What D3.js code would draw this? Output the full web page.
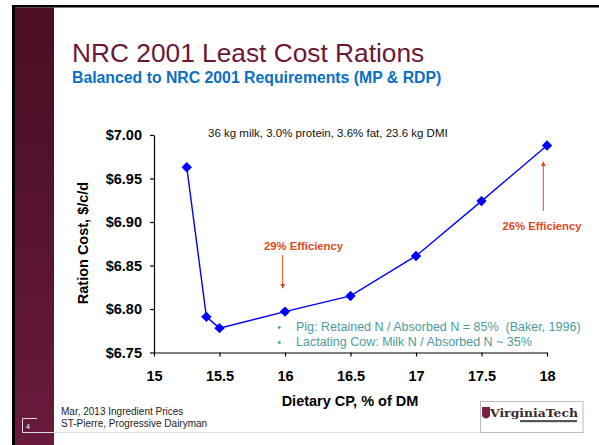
<!DOCTYPE html>
<html>
<head>
<meta charset="utf-8">
<script src="https://cdn.jsdelivr.net/npm/d3@7"></script>
<style>
  body { margin: 0; background: #fff; }
  svg { display: block; font-family: Arial, "Liberation Sans", sans-serif; }
  text { white-space: pre; }
</style>
</head>
<body>
<div id="chart"></div>
<script>
// data
const cpLevels = [15.25, 15.4, 15.5, 16, 16.5, 17, 17.5, 18];
const rationCost = [6.963, 6.791, 6.778, 6.797, 6.815, 6.861, 6.924, 6.988];
const xTicks = [15, 15.5, 16, 16.5, 17, 17.5, 18];
const yTicks = [6.75, 6.80, 6.85, 6.90, 6.95, 7.00];
const bulletLines = [
    "Pig: Retained N / Absorbed N = 85%  (Baker, 1996)",
    "Lactating Cow: Milk N / Absorbed N ~ 35%"
];
const footerLines = ["Mar, 2013 Ingredient Prices", "ST-Pierre, Progressive Dairyman"];

const W = 599, H = 445;
const svg = d3.select("#chart").append("svg")
    .attr("width", W)
    .attr("height", H);

// slide frame: black edge + maroon side panel
const defs = svg.append("defs");
const grad = defs.append("linearGradient")
    .attr("id", "panelGrad")
    .attr("x1", 0).attr("y1", 0).attr("x2", 0).attr("y2", 1);
grad.append("stop").attr("offset", "0%").attr("stop-color", "#4a0d24");
grad.append("stop").attr("offset", "55%").attr("stop-color", "#581530");
grad.append("stop").attr("offset", "100%").attr("stop-color", "#6a1a3c");

svg.append("rect").attr("x", 12).attr("y", 5).attr("width", W - 12).attr("height", 2.5).attr("fill", "#000");
svg.append("rect").attr("x", 12).attr("y", 5).attr("width", 3).attr("height", H - 5).attr("fill", "#000");
svg.append("rect").attr("x", 15).attr("y", 7.5).attr("width", 39).attr("height", H - 7.5).attr("fill", "url(#panelGrad)");

// page number box + bottom rule
svg.append("path")
    .attr("d", "M37,418.5 H22.5 V432.5 H480")
    .attr("fill", "none").attr("stroke", "#ddd").attr("stroke-width", 1);
svg.append("text").attr("x", 26).attr("y", 429)
    .attr("font-size", 7).attr("fill", "#fff").text("4");

// titles
svg.append("text").attr("x", 72).attr("y", 62)
    .attr("font-size", 26.3).attr("fill", "#6b1838")
    .text("NRC 2001 Least Cost Rations");
svg.append("text").attr("x", 72).attr("y", 83)
    .attr("font-size", 15.8).attr("font-weight", "bold").attr("fill", "#0a6fc2")
    .text("Balanced to NRC 2001 Requirements (MP & RDP)");

// scales
const x = d3.scaleLinear().domain([15, 18]).range([154, 547]);
const y = d3.scaleLinear().domain([6.75, 7.00]).range([352.5, 135]);

const xAxis = d3.axisBottom(x).tickValues(xTicks).tickSize(4).tickSizeOuter(0)
    .tickPadding(14).tickFormat(d3.format("~g"));
const yAxis = d3.axisLeft(y).tickValues(yTicks).tickSize(4).tickSizeOuter(0)
    .tickPadding(8).tickFormat(d => "$" + d3.format(".2f")(d));

const gx = svg.append("g").attr("transform", `translate(0,${y(6.75)})`).call(xAxis);
const gy = svg.append("g").attr("transform", `translate(${x(15)},0)`).call(yAxis);
[gx, gy].forEach(g => {
    g.select(".domain").attr("stroke", "#000").attr("stroke-width", 1.2);
    g.selectAll(".tick line").attr("stroke", "#000").attr("stroke-width", 1.2);
    g.selectAll(".tick text")
        .attr("font-family", "Arial, 'Liberation Sans', sans-serif")
        .attr("font-size", 14.5).attr("font-weight", "bold").attr("fill", "#000");
});

// axis titles
svg.append("text").attr("x", 350).attr("y", 406)
    .attr("text-anchor", "middle").attr("font-size", 14.5).attr("font-weight", "bold")
    .text("Dietary CP, % of DM");
svg.append("text")
    .attr("transform", "translate(88,243) rotate(-90)")
    .attr("text-anchor", "middle").attr("font-size", 14.5).attr("font-weight", "bold")
    .text("Ration Cost, $/c/d");

// condition note
svg.append("text").attr("x", 208).attr("y", 137)
    .attr("font-size", 11.5).attr("fill", "#111")
    .text("36 kg milk, 3.0% protein, 3.6% fat, 23.6 kg DMI");

// series
const pts = cpLevels.map((c, i) => ({ cp: c, cost: rationCost[i] }));
const line = d3.line().x(d => x(d.cp)).y(d => y(d.cost));
svg.append("path").datum(pts)
    .attr("d", line).attr("fill", "none")
    .attr("stroke", "#0000ff").attr("stroke-width", 1.4);
svg.selectAll(".pt").data(pts).enter().append("path")
    .attr("class", "pt")
    .attr("transform", d => `translate(${x(d.cp)},${y(d.cost)})`)
    .attr("d", "M0,-5.2 L5.2,0 L0,5.2 L-5.2,0 Z")
    .attr("fill", "#0000ff");

// efficiency callouts
const orange = "#df4a1e";
defs.append("marker").attr("id", "arrowHead")
    .attr("viewBox", "0 0 6 6").attr("refX", 5).attr("refY", 3)
    .attr("markerWidth", 5).attr("markerHeight", 5).attr("orient", "auto")
    .append("path").attr("d", "M0,0 L6,3 L0,6 Z").attr("fill", orange);

svg.append("text").attr("x", 303.5).attr("y", 249.5)
    .attr("text-anchor", "middle").attr("font-size", 11.3).attr("font-weight", "bold").attr("fill", orange)
    .text("29% Efficiency");
svg.append("line").attr("x1", 282.7).attr("y1", 255).attr("x2", 282.7).attr("y2", 288)
    .attr("stroke", orange).attr("stroke-width", 1).attr("marker-end", "url(#arrowHead)");

svg.append("text").attr("x", 542).attr("y", 230)
    .attr("text-anchor", "middle").attr("font-size", 11.3).attr("font-weight", "bold").attr("fill", orange)
    .text("26% Efficiency");
svg.append("line").attr("x1", 543.3).attr("y1", 211).attr("x2", 543.3).attr("y2", 162)
    .attr("stroke", orange).attr("stroke-width", 1).attr("marker-end", "url(#arrowHead)");

// bullet notes
const teal = "#4a9c9e";
bulletLines.forEach((t, i) => {
    svg.append("text").attr("x", 277.5).attr("y", 330.5 + i * 15)
        .attr("font-size", 10).attr("fill", teal).text("•");
    svg.append("text").attr("x", 296).attr("y", 330.5 + i * 15)
        .attr("font-size", 12.5).attr("fill", teal).text(t);
});

// footer
footerLines.forEach((t, i) => {
    svg.append("text").attr("x", 61).attr("y", 415 + i * 12)
        .attr("font-size", 10).attr("fill", "#222").text(t);
});

// logo box
const logo = svg.append("g");
logo.append("rect").attr("x", 480.5).attr("y", 401.5).attr("width", 102.5).attr("height", 31)
    .attr("fill", "#fff").attr("stroke", "#bbb");
logo.append("path").attr("d", "M482,407 H490 V416 Q486,421 482,416 Z").attr("fill", "#7a1f44");
logo.append("text").attr("x", 490).attr("y", 417)
    .attr("font-family", "'DejaVu Serif', serif").attr("font-size", 11.5).attr("font-weight", "bold")
    .attr("fill", "#3a2a2a").attr("textLength", 88).attr("lengthAdjust", "spacingAndGlyphs")
    .text("VirginiaTech");
logo.append("rect").attr("x", 520).attr("y", 420).attr("width", 57).attr("height", 2.2).attr("fill", "#555");
</script>
</body>
</html>
